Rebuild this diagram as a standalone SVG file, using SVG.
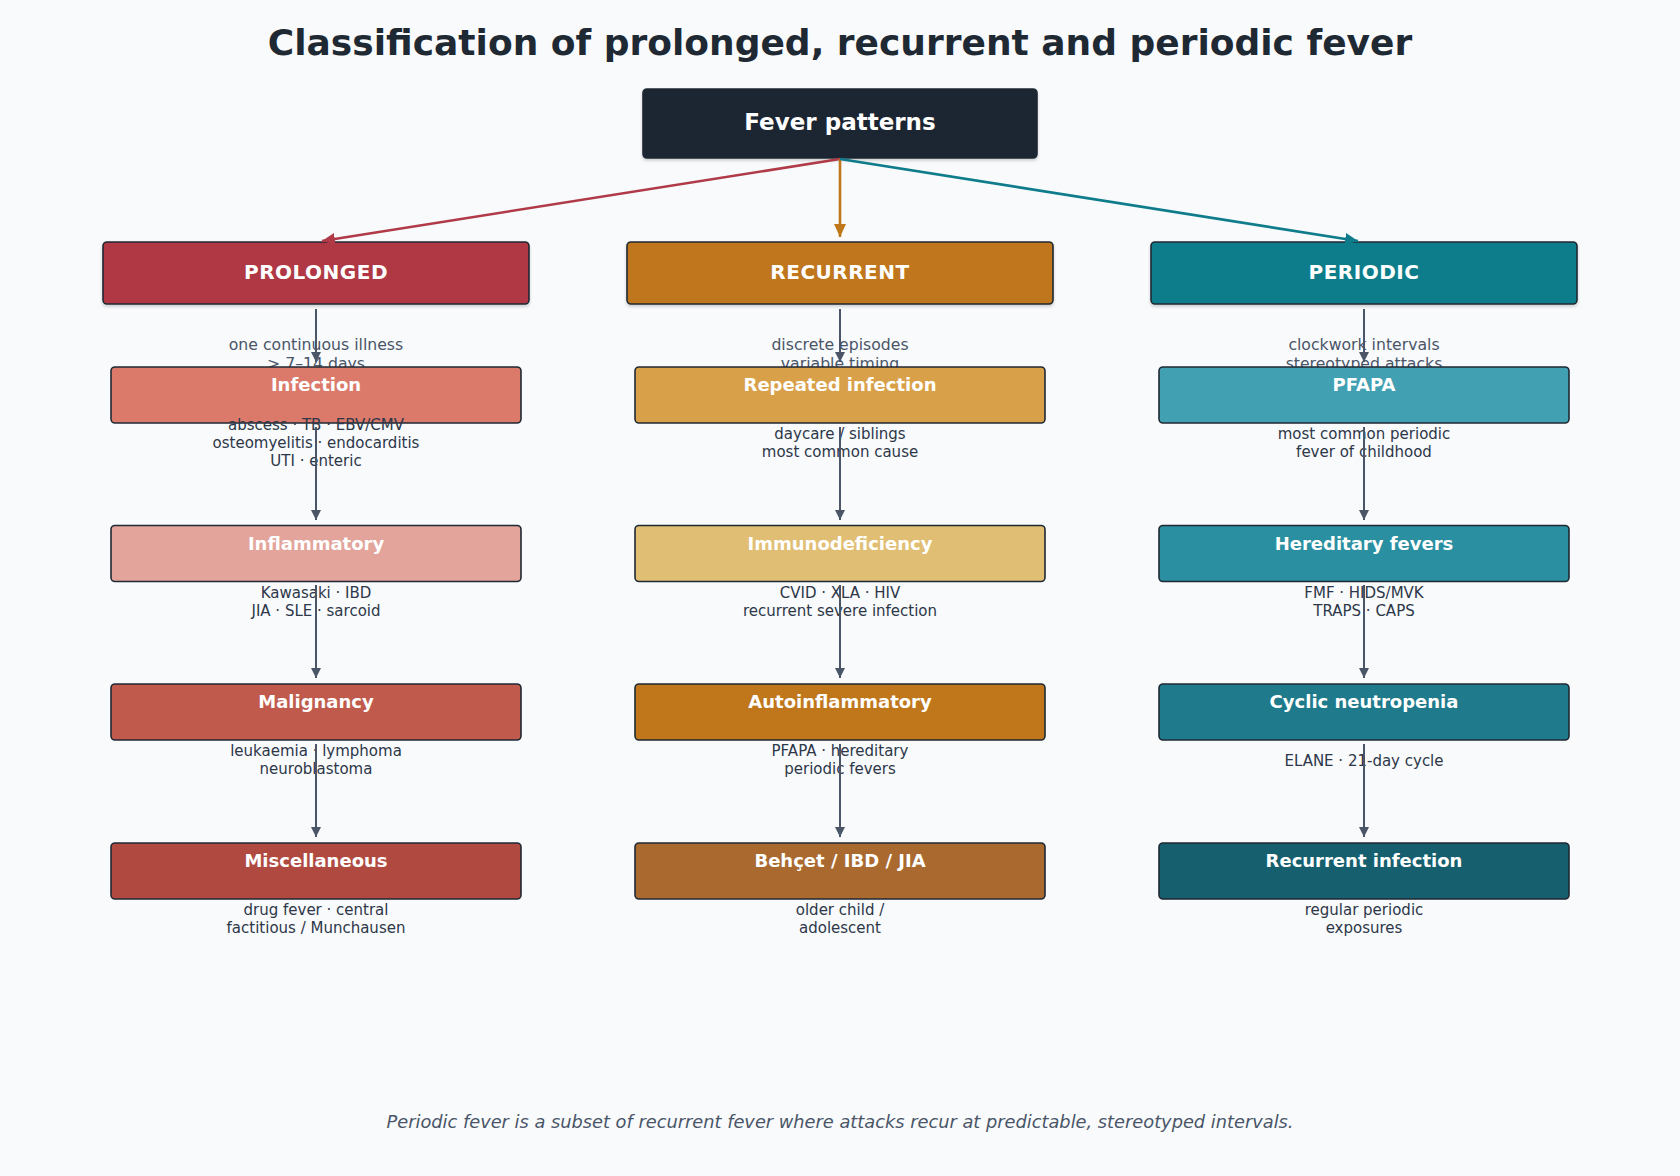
<svg xmlns="http://www.w3.org/2000/svg" width="1680" height="1176" viewBox="0 0 1680 1176">
<style>
text{font-family:"DejaVu Sans","Liberation Sans",sans-serif;text-anchor:middle}
.title{font-size:36px;font-weight:bold;fill:#1f2933}
.box{stroke:#1f2933;stroke-width:1.6}
.h1{font-size:23px;font-weight:bold;fill:#ffffff}
.h2{font-size:20px;font-weight:bold;fill:#ffffff;letter-spacing:0.5px}
.h3{font-size:18px;font-weight:bold;fill:#ffffff}
.lab{font-size:15.7px;fill:#4a5568}
.sub{font-size:15px;fill:#2d3748}
.foot{font-size:17.8px;font-style:italic;fill:#4a5568}
.vc{stroke:#4a5568;stroke-width:2;fill:none}
</style>
<defs>
<filter id="sh" x="-5%" y="-10%" width="110%" height="130%">
<feDropShadow dx="0" dy="2" stdDeviation="1.5" flood-color="#000" flood-opacity="0.18"/>
</filter>
<marker id="ag" viewBox="0 0 10 10" refX="10" refY="5" markerWidth="10" markerHeight="10" markerUnits="userSpaceOnUse" orient="auto"><path d="M0,0 L10,5 L0,10 z" fill="#4a5568"/></marker>
<marker id="ar" viewBox="0 0 13 12" refX="13" refY="6" markerWidth="13" markerHeight="12" markerUnits="userSpaceOnUse" orient="auto"><path d="M0,0 L13,6 L0,12 z" fill="#b03a48"/></marker>
<marker id="ao" viewBox="0 0 13 12" refX="13" refY="6" markerWidth="13" markerHeight="12" markerUnits="userSpaceOnUse" orient="auto"><path d="M0,0 L13,6 L0,12 z" fill="#c0761a"/></marker>
<marker id="at" viewBox="0 0 13 12" refX="13" refY="6" markerWidth="13" markerHeight="12" markerUnits="userSpaceOnUse" orient="auto"><path d="M0,0 L13,6 L0,12 z" fill="#0e7c8a"/></marker>
</defs>
<rect width="1680" height="1176" fill="#f8fafc"/>
<text class="title" x="840" y="55">Classification of prolonged, recurrent and periodic fever</text>

<g id="nodes">
<g id="root"><rect class="box" x="643" y="89" width="394" height="69" rx="4" fill="#1e2832" filter="url(#sh)"/><text class="h1" x="840" y="129.5">Fever patterns</text></g>

<g id="prolonged"><rect class="box" x="103" y="242" width="426" height="62" rx="4" fill="#b03845" filter="url(#sh)"/><text class="h2" x="316" y="279">PROLONGED</text>
<text class="lab" x="316" y="349.5">one continuous illness</text><text class="lab" x="316" y="368.5">&gt; 7–14 days</text></g>
<g id="recurrent"><rect class="box" x="627" y="242" width="426" height="62" rx="4" fill="#c0761b" filter="url(#sh)"/><text class="h2" x="840" y="279">RECURRENT</text>
<text class="lab" x="840" y="349.5">discrete episodes</text><text class="lab" x="840" y="368.5">variable timing</text></g>
<g id="periodic"><rect class="box" x="1151" y="242" width="426" height="62" rx="4" fill="#0e7d8b" filter="url(#sh)"/><text class="h2" x="1364" y="279">PERIODIC</text>
<text class="lab" x="1364" y="349.5">clockwork intervals</text><text class="lab" x="1364" y="368.5">stereotyped attacks</text></g>

<g id="infection"><rect class="box" x="111" y="367" width="410" height="56" rx="4" fill="#db7a6b"/><text class="h3" x="316" y="391">Infection</text>
<text class="sub" x="316" y="430">abscess · TB · EBV/CMV</text><text class="sub" x="316" y="448">osteomyelitis · endocarditis</text><text class="sub" x="316" y="466">UTI · enteric</text></g>
<g id="inflammatory"><rect class="box" x="111" y="525.5" width="410" height="56" rx="4" fill="#e2a49b"/><text class="h3" x="316" y="549.5">Inflammatory</text>
<text class="sub" x="316" y="597.5">Kawasaki · IBD</text><text class="sub" x="316" y="615.5">JIA · SLE · sarcoid</text></g>
<g id="malignancy"><rect class="box" x="111" y="684" width="410" height="56" rx="4" fill="#c05a4c"/><text class="h3" x="316" y="708">Malignancy</text>
<text class="sub" x="316" y="756">leukaemia · lymphoma</text><text class="sub" x="316" y="774">neuroblastoma</text></g>
<g id="misc"><rect class="box" x="111" y="843" width="410" height="56" rx="4" fill="#b04a40"/><text class="h3" x="316" y="867">Miscellaneous</text>
<text class="sub" x="316" y="915">drug fever · central</text><text class="sub" x="316" y="933">factitious / Munchausen</text></g>

<g id="repeated"><rect class="box" x="635" y="367" width="410" height="56" rx="4" fill="#d9a04a"/><text class="h3" x="840" y="391">Repeated infection</text>
<text class="sub" x="840" y="439">daycare / siblings</text><text class="sub" x="840" y="457">most common cause</text></g>
<g id="immuno"><rect class="box" x="635" y="525.5" width="410" height="56" rx="4" fill="#e0be74"/><text class="h3" x="840" y="549.5">Immunodeficiency</text>
<text class="sub" x="840" y="597.5">CVID · XLA · HIV</text><text class="sub" x="840" y="615.5">recurrent severe infection</text></g>
<g id="autoinf"><rect class="box" x="635" y="684" width="410" height="56" rx="4" fill="#c0771c"/><text class="h3" x="840" y="708">Autoinflammatory</text>
<text class="sub" x="840" y="756">PFAPA · hereditary</text><text class="sub" x="840" y="774">periodic fevers</text></g>
<g id="behcet"><rect class="box" x="635" y="843" width="410" height="56" rx="4" fill="#a9692f"/><text class="h3" x="840" y="867">Behçet / IBD / JIA</text>
<text class="sub" x="840" y="915">older child /</text><text class="sub" x="840" y="933">adolescent</text></g>

<g id="pfapa"><rect class="box" x="1159" y="367" width="410" height="56" rx="4" fill="#42a0b3"/><text class="h3" x="1364" y="391">PFAPA</text>
<text class="sub" x="1364" y="439">most common periodic</text><text class="sub" x="1364" y="457">fever of childhood</text></g>
<g id="hereditary"><rect class="box" x="1159" y="525.5" width="410" height="56" rx="4" fill="#2a8fa1"/><text class="h3" x="1364" y="549.5">Hereditary fevers</text>
<text class="sub" x="1364" y="597.5">FMF · HIDS/MVK</text><text class="sub" x="1364" y="615.5">TRAPS · CAPS</text></g>
<g id="cyclic"><rect class="box" x="1159" y="684" width="410" height="56" rx="4" fill="#1f7a8c"/><text class="h3" x="1364" y="708">Cyclic neutropenia</text>
<text class="sub" x="1364" y="765.5">ELANE · 21-day cycle</text></g>
<g id="recinf"><rect class="box" x="1159" y="843" width="410" height="56" rx="4" fill="#165f6f"/><text class="h3" x="1364" y="867">Recurrent infection</text>
<text class="sub" x="1364" y="915">regular periodic</text><text class="sub" x="1364" y="933">exposures</text></g>
</g>

<g id="connectors">
<line x1="840" y1="159" x2="322" y2="241" stroke="#b03a48" stroke-width="2.6" marker-end="url(#ar)"/>
<line x1="840" y1="159" x2="840" y2="237" stroke="#c0761a" stroke-width="2.6" marker-end="url(#ao)"/>
<line x1="840" y1="159" x2="1358" y2="241" stroke="#0e7c8a" stroke-width="2.6" marker-end="url(#at)"/>
<line class="vc" x1="316" y1="309" x2="316" y2="362" marker-end="url(#ag)"/>
<line class="vc" x1="316" y1="427" x2="316" y2="520" marker-end="url(#ag)"/>
<line class="vc" x1="316" y1="585" x2="316" y2="678" marker-end="url(#ag)"/>
<line class="vc" x1="316" y1="744" x2="316" y2="837" marker-end="url(#ag)"/>
<line class="vc" x1="840" y1="309" x2="840" y2="362" marker-end="url(#ag)"/>
<line class="vc" x1="840" y1="427" x2="840" y2="520" marker-end="url(#ag)"/>
<line class="vc" x1="840" y1="585" x2="840" y2="678" marker-end="url(#ag)"/>
<line class="vc" x1="840" y1="744" x2="840" y2="837" marker-end="url(#ag)"/>
<line class="vc" x1="1364" y1="309" x2="1364" y2="362" marker-end="url(#ag)"/>
<line class="vc" x1="1364" y1="427" x2="1364" y2="520" marker-end="url(#ag)"/>
<line class="vc" x1="1364" y1="585" x2="1364" y2="678" marker-end="url(#ag)"/>
<line class="vc" x1="1364" y1="744" x2="1364" y2="837" marker-end="url(#ag)"/>
</g>

<text class="foot" x="840" y="1128">Periodic fever is a subset of recurrent fever where attacks recur at predictable, stereotyped intervals.</text>
</svg>
